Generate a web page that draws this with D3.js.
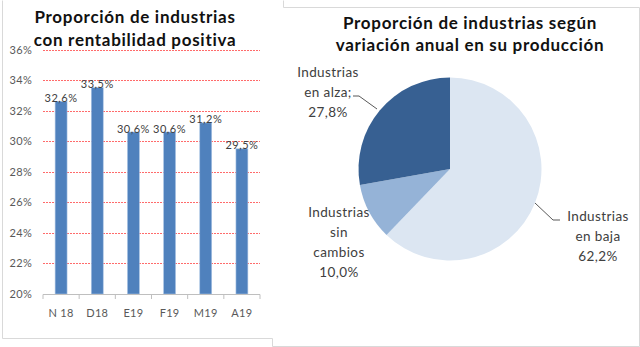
<!doctype html>
<html lang="es">
<head>
<meta charset="utf-8">
<style>
  body { margin: 0; background: #fff; }
  svg { display: block; font-family: Lato, "Open Sans", sans-serif; }
</style>
</head>
<body>
<script src="https://cdn.jsdelivr.net/npm/d3@7"></script>
<script>
// bar chart data
var meses = ["N 18", "D18", "E19", "F19", "M19", "A19"];
var rentab = [32.6, 33.5, 30.6, 30.6, 31.2, 29.5];
var yTicks = [20, 22, 24, 26, 28, 30, 32, 34, 36];

// pie data
var grupos = ["Industrias en baja", "Industrias sin cambios", "Industrias en alza"];
var shares = [62.2, 10.0, 27.8];
var pieColors = ["#dce6f2", "#95b3d7", "#376092"];

var width = 640, height = 347;
var svg = d3.select("body").append("svg")
  .attr("width", width)
  .attr("height", height);

var fmt = function (v) { return d3.format(".1f")(v).replace(".", ",") + "%"; };

// panel borders
var border = "#d9d9d9";
var edges = [
  [2, 0, 2, 338], [2, 338, 272, 338], [272, 338, 272, 346], [272, 346, 639, 346],
  [639, 346, 639, 7], [639, 7, 283, 7], [283, 7, 283, 0]
];
svg.append("g").selectAll("line").data(edges).enter().append("line")
  .attr("x1", function (d) { return d[0] + 0.5; })
  .attr("y1", function (d) { return d[1] + 0.5; })
  .attr("x2", function (d) { return d[2] + 0.5; })
  .attr("y2", function (d) { return d[3] + 0.5; })
  .attr("stroke", border);

// ---- left: bar chart
var x = d3.scaleBand().domain(meses).range([43, 260]).paddingInner(0.67).paddingOuter(0.335);
var xb = d3.scaleBand().domain(meses).range([43, 260]);
var y = d3.scaleLinear().domain([20, 36]).range([294, 49.5]);

var left = svg.append("g");

left.append("text").attr("font-weight", "bold").attr("font-size", 17)
  .attr("letter-spacing", 0.7).attr("fill", "#111").attr("text-anchor", "middle")
  .selectAll("tspan").data(["Proporción de industrias", "con rentabilidad positiva"]).enter()
  .append("tspan").attr("x", 135).attr("y", function (d, i) { return 23 + i * 23; })
  .text(function (d) { return d; });

left.append("g").selectAll("line").data(yTicks.slice(1)).enter().append("line")
  .attr("x1", 43).attr("x2", 260)
  .attr("y1", function (d) { return Math.round(y(d)) + 0.5; })
  .attr("y2", function (d) { return Math.round(y(d)) + 0.5; })
  .attr("stroke", "#ff6b6b").attr("stroke-dasharray", "2,1");

left.append("g").selectAll("text").data(yTicks).enter().append("text")
  .attr("x", 32).attr("y", function (d) { return y(d) + 4; })
  .attr("text-anchor", "end").attr("font-size", 11).attr("letter-spacing", 0.3).attr("fill", "#595959")
  .text(function (d) { return d + "%"; });

left.append("g").selectAll("rect").data(rentab).enter().append("rect")
  .attr("x", function (d, i) { return x(meses[i]); })
  .attr("width", x.bandwidth())
  .attr("y", function (d) { return y(d); })
  .attr("height", function (d) { return y(20) - y(d); })
  .attr("fill", "#4f81bd").attr("stroke", "#a9c4e4").attr("stroke-width", 0.6);

left.append("g").selectAll("text").data(rentab).enter().append("text")
  .attr("x", function (d, i) { return x(meses[i]) + x.bandwidth() / 2; })
  .attr("y", function (d) { return y(d) + 0.5; })
  .attr("text-anchor", "middle").attr("font-size", 11).attr("letter-spacing", 0.5).attr("fill", "#404040")
  .text(fmt);

var xAxis = left.append("g").attr("transform", "translate(0,294.5)")
  .call(d3.axisBottom(xb).tickSize(0).tickPadding(0).tickFormat(""));
xAxis.select(".domain").attr("stroke", "#bfbfbf").attr("d", "M43,0H260");
left.append("g").selectAll("line").data(d3.range(meses.length + 1)).enter().append("line")
  .attr("x1", function (i) { return 43 + i * xb.step(); })
  .attr("x2", function (i) { return 43 + i * xb.step(); })
  .attr("y1", 294.5).attr("y2", 299).attr("stroke", "#bfbfbf");

left.append("g").selectAll("text").data(meses).enter().append("text")
  .attr("x", function (d) { return xb(d) + xb.bandwidth() / 2; })
  .attr("y", 317).attr("text-anchor", "middle").attr("font-size", 11).attr("letter-spacing", 0.3)
  .attr("fill", "#595959")
  .text(function (d) { return d; });

// ---- right: pie chart
var right = svg.append("g");
right.append("text").attr("font-weight", "bold").attr("font-size", 17)
  .attr("letter-spacing", 0.7).attr("fill", "#111").attr("text-anchor", "middle")
  .selectAll("tspan").data(["Proporción de industrias según", "variación anual en su producción"]).enter()
  .append("tspan").attr("x", 470).attr("y", function (d, i) { return 29 + i * 22; })
  .text(function (d) { return d; });

var cx = 450, cy = 169, r = 91.5;
var pie = d3.pie().sort(null).value(function (d) { return d; });
var arc = d3.arc().innerRadius(0).outerRadius(r);
var g = right.append("g").attr("transform", "translate(" + cx + "," + cy + ")");
g.selectAll("path").data(pie(shares)).enter().append("path")
  .attr("d", arc)
  .attr("fill", function (d, i) { return pieColors[i]; });

// labels
var labels = [
  { lines: ["Industrias", "en baja", fmt(shares[0])], x: 598, y: 221 },
  { lines: ["Industrias", "sin", "cambios", fmt(shares[1])], x: 339, y: 217 },
  { lines: ["Industrias", "en alza;", fmt(shares[2])], x: 328, y: 77 }
];
right.append("g").selectAll("text").data(labels).enter().append("text")
  .attr("text-anchor", "middle").attr("font-size", 13.5).attr("letter-spacing", 0.4).attr("fill", "#404040")
  .each(function (d) {
    d3.select(this).selectAll("tspan").data(d.lines).enter().append("tspan")
      .attr("x", d.x).attr("y", function (t, i) { return d.y + i * 20; })
      .text(function (t) { return t; });
  });

// leader lines
var leaders = [
  [[535, 203], [553, 220], [560, 220]],
  [[353, 96], [359, 96], [377, 109]]
];
right.append("g").selectAll("path").data(leaders).enter().append("path")
  .attr("d", d3.line())
  .attr("fill", "none").attr("stroke", "#595959").attr("stroke-width", 1);
</script>
</body>
</html>
